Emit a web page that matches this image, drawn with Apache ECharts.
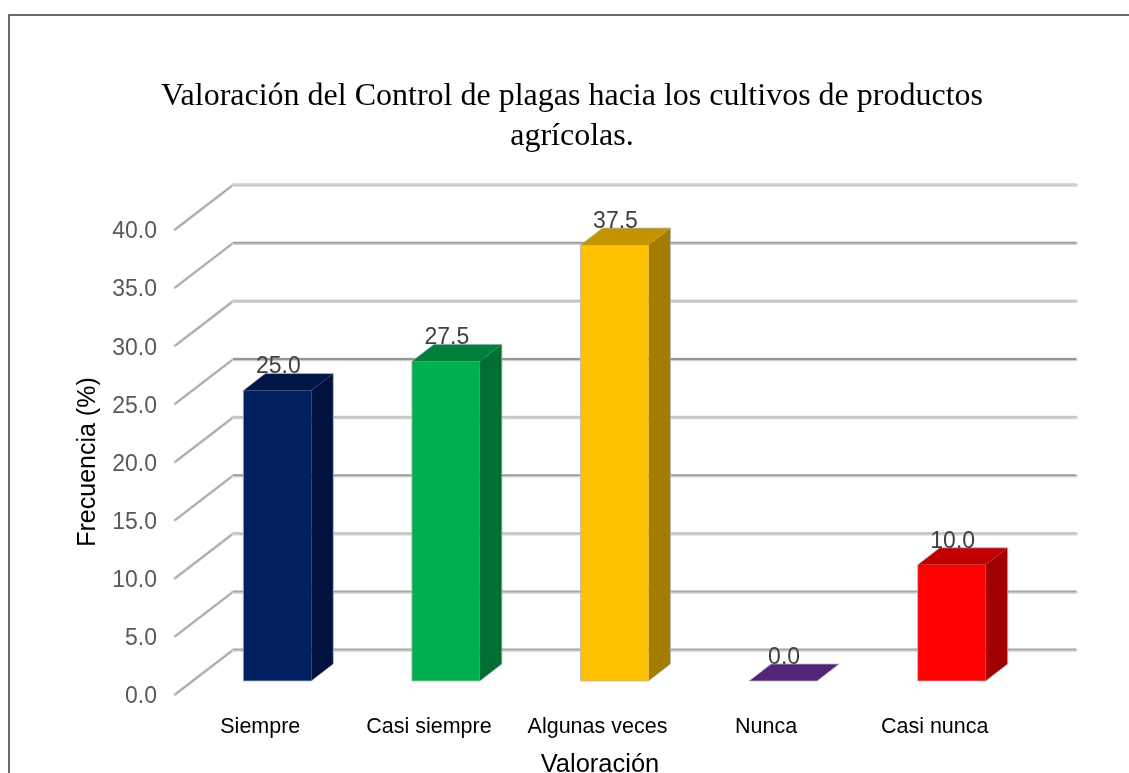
<!DOCTYPE html>
<html>
<head>
<meta charset="utf-8">
<style>html,body{margin:0;padding:0;background:#fff}#c{width:1129px;height:773px}</style>
<script src="https://cdn.jsdelivr.net/npm/echarts@6/dist/echarts.min.js"></script>
</head>
<body>
<div id="c"></div>
<script>
const titleText = 'Valoración del Control de plagas hacia los cultivos de productos\nagrícolas.';
const categories = ['Siempre', 'Casi siempre', 'Algunas veces', 'Nunca', 'Casi nunca'];
const values = [25.0, 27.5, 37.5, 0.0, 10.0];
const frontColors = ['#002060', '#00B050', '#FFC000', '#7030A0', '#FF0000'];
const topColors = ['#001748', '#00803A', '#C49300', '#532479', '#BE0000'];
const sideColors = ['#00133F', '#006F32', '#A67C00', '#4A206B', '#A00000'];
const gridValues = [0, 5, 10, 15, 20, 25, 30, 35, 40];
const gridShades = ['#a8a8a8', '#a8a8a8', '#c4c4c4', '#989898', '#c4c4c4', '#808080', '#c4c4c4', '#989898', '#cccccc'];

const wallDX = 58, wallDY = 44.5;   // depth of the floor
const barOffX = 18, barOffY = 13.5, barDX = 22, barDY = 17, barW = 68;

function renderGrid(params, api) {
  const v = api.value(0), shade = gridShades[params.dataIndex];
  const cs = params.coordSys;
  const p = api.coord([0, v]);
  const x0 = cs.x, y0 = p[1];
  const xb = x0 + wallDX, yb = y0 - wallDY, xe = xb + cs.width;
  return {
    type: 'group',
    children: [
      {type: 'polyline', shape: {points: [[x0, y0], [xb, yb]]},
        style: {stroke: '#cfcfcf', lineWidth: 3, lineCap: 'round', fill: null}},
      {type: 'polyline', shape: {points: [[x0, y0], [xb, yb]]},
        style: {stroke: '#8f8f8f', lineWidth: 1, fill: null}},
      {type: 'polyline', shape: {points: [[xb, yb], [xe, yb]]},
        style: {stroke: '#d2d2d2', lineWidth: 3.5, lineCap: 'round', fill: null}},
      {type: 'polyline', shape: {points: [[xb, yb - 0.5], [xe, yb - 0.5]]},
        style: {stroke: shade, lineWidth: 1.5, fill: null}}
    ]
  };
}

function renderBar(params, api) {
  const i = params.dataIndex, val = api.value(1);
  const base = api.coord([i, 0]), top = api.coord([i, val]);
  const cx = base[0] + barOffX, l = cx - barW / 2, r = cx + barW / 2;
  const yB = base[1] - barOffY, yT = top[1] - barOffY;
  const children = [];
  if (val > 0) {
    children.push({type: 'polygon', shape: {points: [[r, yT], [r + barDX, yT - barDY], [r + barDX, yB - barDY], [r, yB]]},
      style: {fill: sideColors[i]}});
    children.push({type: 'rect', shape: {x: l, y: yT, width: barW, height: yB - yT},
      style: {fill: frontColors[i]}});
  }
  children.push({type: 'polygon', shape: {points: [[l, yT], [l + barDX, yT - barDY], [r + barDX, yT - barDY], [r, yT]]},
    style: {fill: topColors[i]}});
  children.push({type: 'polygon', shape: {points: [[l, yT], [l + barDX, yT - barDY], [r + barDX, yT - barDY], [r + barDX, yB - barDY], [r, yB], [l, yB]]},
    style: {fill: null, stroke: '#b8b8b8', lineWidth: 0.8}});
  children.push({type: 'text', x: cx + 1, y: yT - 12, style: {
    text: val.toFixed(1), font: '23px "Liberation Sans"', fill: '#404040', align: 'center', verticalAlign: 'bottom'}, z2: 50});
  return {type: 'group', children};
}

const chart = echarts.init(document.getElementById('c'));
chart.setOption({
  animation: false,
  backgroundColor: '#fff',
  textStyle: {fontFamily: '"Liberation Sans"'},
  title: {text: titleText, left: 567, top: 72, textAlign: 'center',
    textStyle: {fontFamily: '"Liberation Serif"', fontWeight: 'normal', fontSize: 32, lineHeight: 40, color: '#000'}},
  graphic: [{type: 'rect', z: -1, shape: {x: 9, y: 15, width: 1300, height: 900},
    style: {fill: 'none', stroke: '#3c3c3c', lineWidth: 1.5}}],
  grid: {left: 175, top: 229.5, width: 843, height: 465, outerBoundsMode: 'none'},
  xAxis: {type: 'category', data: categories,
    name: 'Valoración', nameLocation: 'middle', nameGap: 57,
    nameTextStyle: {fontSize: 25.5, color: '#000', padding: [0, 0, 0, 7]},
    axisLine: {show: false}, axisTick: {show: false},
    axisLabel: {fontSize: 21.5, color: '#000', margin: 22, interval: 0, hideOverlap: false, padding: [0, 0, 0, 2]}},
  yAxis: {type: 'value', min: 0, max: 40, interval: 5,
    name: 'Frecuencia (%)', nameLocation: 'middle', nameGap: 74,
    nameTextStyle: {fontSize: 25, color: '#000'},
    axisLine: {show: false}, axisTick: {show: false}, splitLine: {show: false},
    axisLabel: {fontSize: 23, color: '#595959', margin: 18, verticalAlign: 'top', lineHeight: 27, padding: [-11, 0, 0, 0], formatter: v => v.toFixed(1)}},
  series: [
    {type: 'custom', renderItem: renderGrid, silent: true, z: 1,
     encode: {y: 0}, data: gridValues.map(v => [v])},
    {type: 'custom', renderItem: renderBar, silent: true, z: 2,
     encode: {x: 0, y: 1}, data: values.map((v, i) => [i, v])}
  ]
});
</script>
</body>
</html>
